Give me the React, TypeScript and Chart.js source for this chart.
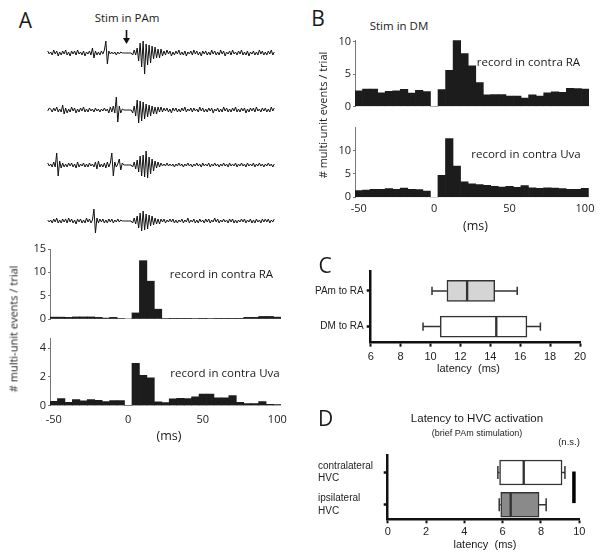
import React, { useEffect, useRef } from 'react';
import { Chart, registerables } from 'chart.js';
Chart.register(...registerables);

// ---------- DATA ----------
const BIN_CENTERS = [-50, -45, -40, -35, -30, -25, -20, -15, -10, -5, 0, 5, 10, 15, 20, 25, 30, 35, 40, 45, 50, 55, 60, 65, 70, 75, 80, 85, 90, 95, 100];
const HIST_X_TICKS = [-50, 0, 50, 100];

const A_RA = [0.4, 0.4, 0.35, 0.45, 0.45, 0.45, 0.35, 0.2, 0.35, 0.1, 0, 1.3, 12.5, 8.1, 2.1, 0.1, 0.05, 0.05, 0.05, 0.1, 0.05, 0.1, 0.05, 0.05, 0.05, 0.05, 0.35, 0.35, 0.55, 0.55, 0.4];
const A_UVA = [0.31, 0.5, 0.24, 0.43, 0.33, 0.43, 0.38, 0.29, 0.36, 0.36, 0, 2.95, 2.1, 1.93, 0.26, 0.21, 0.48, 0.52, 0.5, 0.62, 0.81, 0.81, 0.55, 0.55, 0.71, 0.24, 0.14, 0.14, 0.29, 0.1, 0.07];
const B_RA = [2.4, 2.7, 2.7, 2.1, 2.35, 2.4, 2.65, 2.05, 2.5, 2.3, 0, 2.6, 5.6, 10.2, 8.2, 6.3, 3.7, 1.8, 1.85, 1.85, 1.6, 1.6, 1.3, 1.8, 1.6, 2.1, 2.25, 2.2, 2.8, 2.75, 2.7];
const B_UVA = [1.45, 1.55, 1.7, 1.7, 1.85, 1.7, 2.0, 1.7, 1.65, 1.35, 0, 4.7, 12.6, 6.7, 3.3, 2.9, 2.7, 2.55, 2.35, 2.2, 2.35, 2.15, 2.5, 2.05, 1.9, 2.05, 2.0, 1.85, 1.7, 1.7, 1.9];

const A_RA_TICKS = [0, 5, 10, 15];
const A_UVA_TICKS = [0, 2, 4];
const B_RA_TICKS = [0, 5, 10];
const B_UVA_TICKS = [0, 5, 10];

// raw traces (arbitrary units), sampled every 1 ms starting at -54 ms
const TRACE_START_MS = -54;
const TRACE_STEP_MS = 1;
const TRACE_1 = [2, -1, 1, -2, 3, -1, 2, -3, 1, -2, 2, -1, 3, -2, 1, -3, 2, -1, 2, -2, 3, -1, 1, -2, 2, -3, 1, -1, 2, -2, 5, -5, 2, -2, 1, -2, 2, -1, 3, 12, -11, 2, -1, 1, -1, 1, -2, 1, -1, 1, 0, 0, 0, 0, 0, 0, 0, -2, 3, -2, 5, -8, 10, -14, 12, -21, 9, -12, 8, -10, 7, -6, 6, -5, 4, -5, 4, -3, 2, -2, 3, -1, 2, -3, 1, -2, 2, -1, 3, -2, 1, -2, 2, -3, 1, -1, 2, -2, 3, -1, 2, -2, 1, -3, 2, -1, 2, -2, 1, -2, 3, -1, 2, -2, 1, -2, 3, -1, 2, -3, 1, -1, 2, -2, 3, -1, 1, -2, 2, -1, 3, -2, 1, -2, 2, -3, 1, -1, 2, -2, 1, -2, 3, -1, 2, -2, 1, -2, 2, -1, 3, -2, 1];
const TRACE_2 = [-1, 2, 1, -2, 2, -1, 3, -2, 1, -2, 5, -4, 2, -3, 1, -2, 3, -1, 2, -3, 1, -2, 2, -1, 3, -2, 1, -2, 2, -1, 1, -2, 2, -1, 1, -2, 1, -1, 2, -1, 1, -3, 3, -2, 4, -3, 13, -12, 4, -3, 1, 0, 0, 0, 0, 0, 0, -3, 4, -6, 10, -13, 9, -11, 8, -9, 6, -7, 5, -6, 4, -4, 3, -4, 3, -2, 3, -2, 2, -1, 2, -2, 1, -3, 2, -1, 2, -2, 1, -2, 2, -1, 3, -2, 1, -1, 2, -2, 2, -1, 1, -2, 3, -1, 2, -2, 1, -2, 2, -1, 2, -3, 1, -1, 2, -2, 1, -2, 3, -1, 2, -2, 1, -2, 2, -1, 3, -2, 1, -2, 2, -1, 2, -3, 1, -2, 2, -1, 2, -2, 3, -1, 1, -2, 2, -1, 2, -2, 1, -2, 3, -1, 2];
const TRACE_3 = [2, -1, 1, -2, 3, -2, 12, -11, 4, -3, 2, -2, 1, -2, 2, -1, 2, -2, 1, -3, 3, -2, 1, -1, 2, -2, 1, -2, 2, -1, 1, -2, 3, -4, 4, -2, 1, -2, 2, -3, 3, -2, 2, 12, -11, 3, -2, 1, 6, -5, 2, 0, 0, 0, 0, 0, 0, -2, 3, -4, 5, -7, 9, -11, 10, -12, 14, -13, 8, -9, 6, -6, 4, -3, 3, -2, 2, -1, 1, -1, 2, -1, 1, -1, 1, -2, 1, -1, 2, -1, 1, -2, 1, -1, 2, -1, 1, -2, 1, -1, 2, -1, 1, -2, 2, -1, 1, -1, 2, -2, 1, -1, 2, -1, 1, -2, 1, -1, 2, -1, 1, -2, 2, -1, 1, -1, 2, -2, 1, -1, 2, -1, 1, -2, 2, -1, 1, -1, 2, -2, 1, -1, 2, -1, 1, -2, 1, -1, 2, -1, 1, -2, 1];
const TRACE_4 = [1, -1, 1, -2, 2, -1, 3, -2, 1, -2, 2, -1, 2, -2, 3, -1, 2, -2, 1, -3, 2, -1, 2, -2, 1, -2, 3, -1, 2, -2, 1, 12, -12, 3, -2, 2, -1, 2, -2, 1, -2, 2, -1, 2, -2, 1, -1, 2, -1, 1, 0, 0, 0, 0, 0, 0, 0, -2, 3, -3, 5, -7, 8, -10, 10, -9, 7, -8, 6, -5, 5, -4, 3, -3, 2, -3, 2, -1, 2, -2, 1, -1, 2, -1, 2, -2, 1, -2, 1, -1, 2, -2, 1, -1, 3, -2, 1, -1, 2, -2, 1, -2, 2, -1, 1, -2, 2, -1, 2, -2, 1, -1, 3, -1, 2, -2, 1, -1, 2, -1, 1, -2, 2, -1, 2, -2, 1, -2, 1, -1, 2, -1, 2, -2, 1, -1, 2, -2, 1, -2, 2, -1, 1, -2, 2, -1, 2, -1, 2, -2, 1, -1, 2];

// panel C box plots (latency, ms)
const C_ROW_IDS = [1, 2];
const C_LABELS = ['PAm to RA', 'DM to RA'];
const C_LOW = [10.1, 9.5];
const C_Q1 = [11.1, 10.65];
const C_MED = [12.45, 14.4];
const C_Q3 = [14.3, 16.45];
const C_HIGH = [15.8, 17.35];
const C_FILL = ['#d5d5d5', '#ffffff'];
const C_X_TICKS = [6, 8, 10, 12, 14, 16, 18, 20];

// panel D box plots (latency, ms)
const D_ROW_IDS = [1, 2];
const D_LABELS = [['contralateral', 'HVC'], ['ipsilateral', 'HVC']];
const D_LOW = [5.75, 5.82];
const D_Q1 = [5.84, 5.9];
const D_MED = [7.1, 6.42];
const D_Q3 = [9.1, 7.9];
const D_HIGH = [9.25, 8.27];
const D_FILL = ['#ffffff', '#8a8a8a'];
const D_X_TICKS = [0, 2, 4, 6, 8, 10];
const D_NS_X = 9.72;
const D_NS_ROWS = [0.97, 1.95];

// ---------- STYLE ----------
const OPEN = "'Open Sans', sans-serif";
const ARIAL = "'Liberation Sans', Arial, sans-serif";

const setTicks = (vals: number[]) => (s: any) => {
  s.ticks = vals.map((v) => ({ value: v }));
};

function histConfig(values: number[], o: any) {
  return {
    type: 'bar',
    data: {
      datasets: [
        {
          data: BIN_CENTERS.map((x, i) => ({ x, y: values[i] })),
          backgroundColor: '#1c1c1c',
          borderWidth: 0,
          barPercentage: 1,
          categoryPercentage: 1,
        },
      ],
    },
    options: {
      animation: false,
      responsive: false,
      maintainAspectRatio: false,
      layout: { padding: o.padding },
      plugins: { legend: { display: false }, tooltip: { enabled: false } },
      scales: {
        x: {
          type: 'linear',
          min: -52.5,
          max: 102.5,
          offset: false,
          display: o.showX,
          grid: { display: false, drawTicks: false, offset: false },
          border: { display: false },
          ticks: { font: { family: OPEN, size: 11 }, color: '#222', padding: o.xPad ?? 8, maxRotation: 0 },
          afterBuildTicks: setTicks(HIST_X_TICKS),
          afterFit: (s: any) => {
            s.height = o.xHeight ?? 0;
          },
        },
        y: {
          type: 'linear',
          min: 0,
          max: o.yMax,
          grid: { display: true, drawOnChartArea: false, drawTicks: true, tickLength: 2, color: '#777', lineWidth: 1 },
          border: { display: true, color: '#777', width: 1 },
          ticks: { font: { family: OPEN, size: 11 }, color: '#222', padding: 2 },
          afterBuildTicks: setTicks(o.yTicks),
          afterFit: (s: any) => {
            s.width = o.yWidth;
          },
        },
      },
    },
  };
}

function traceConfig(values: number[]) {
  return {
    type: 'line',
    data: {
      datasets: [
        {
          data: values.map((v, i) => ({ x: TRACE_START_MS + i * TRACE_STEP_MS, y: v })),
          borderColor: '#111',
          borderWidth: 1,
          pointRadius: 0,
          tension: 0,
        },
      ],
    },
    options: {
      animation: false,
      responsive: false,
      maintainAspectRatio: false,
      layout: { padding: 0 },
      plugins: { legend: { display: false }, tooltip: { enabled: false } },
      scales: {
        x: { type: 'linear', min: -54.5, max: 102.5, display: false },
        y: { type: 'linear', min: -25, max: 25, display: false },
      },
    },
  };
}

const whiskerPlugin = {
  id: 'whiskers',
  afterDatasetsDraw(chart: any, _args: any, opts: any) {
    const { ctx } = chart;
    const xs = chart.scales.x;
    const ys = chart.scales.y;
    ctx.save();
    ctx.strokeStyle = '#333';
    ctx.lineWidth = 1.5;
    opts.rows.forEach((r: number, i: number) => {
      const yp = ys.getPixelForValue(r);
      const lo = xs.getPixelForValue(opts.low[i]);
      const q1 = xs.getPixelForValue(opts.q1[i]);
      const q3 = xs.getPixelForValue(opts.q3[i]);
      const hi = xs.getPixelForValue(opts.high[i]);
      ctx.beginPath();
      ctx.moveTo(lo, yp);
      ctx.lineTo(q1, yp);
      ctx.moveTo(q3, yp);
      ctx.lineTo(hi, yp);
      ctx.moveTo(lo, yp - opts.cap);
      ctx.lineTo(lo, yp + opts.cap);
      ctx.moveTo(hi, yp - opts.cap);
      ctx.lineTo(hi, yp + opts.cap);
      ctx.stroke();
    });
    if (opts.ns) {
      ctx.strokeStyle = '#000';
      ctx.lineWidth = 3.5;
      const x = xs.getPixelForValue(opts.ns.x);
      ctx.beginPath();
      ctx.moveTo(x, ys.getPixelForValue(opts.ns.rows[0]));
      ctx.lineTo(x, ys.getPixelForValue(opts.ns.rows[1]));
      ctx.stroke();
    }
    ctx.restore();
  },
};

function boxConfig(o: any) {
  const mk = (a: number[], b: number[]) => o.rows.map((y: number, i: number) => ({ y, x: [a[i], b[i]] }));
  const common = {
    backgroundColor: o.fill,
    borderColor: '#333',
    borderWidth: 1.5,
    borderSkipped: false,
    barThickness: o.thickness,
    grouped: false,
  };
  return {
    type: 'bar',
    data: {
      datasets: [
        { data: mk(o.q1, o.med), ...common },
        { data: mk(o.med, o.q3), ...common },
      ],
    },
    plugins: [whiskerPlugin],
    options: {
      indexAxis: 'y',
      animation: false,
      responsive: false,
      maintainAspectRatio: false,
      layout: { padding: o.padding },
      plugins: {
        legend: { display: false },
        tooltip: { enabled: false },
        whiskers: { rows: o.rows, low: o.low, q1: o.q1, q3: o.q3, high: o.high, cap: o.cap, ns: o.ns },
      },
      scales: {
        x: {
          type: 'linear',
          min: o.xMin,
          max: o.xMax,
          offset: false,
          grid: { display: true, drawOnChartArea: false, drawTicks: true, tickLength: 4, tickWidth: 2, tickColor: '#111', offset: false },
          border: { display: true, color: '#111', width: 2.5 },
          ticks: { font: { family: ARIAL, size: 11 }, color: '#222', padding: o.xPad, maxRotation: 0 },
          afterBuildTicks: setTicks(o.xTicks),
          afterFit: (s: any) => {
            s.height = o.xHeight;
          },
        },
        y: {
          type: 'linear',
          min: o.yMin,
          max: o.yMax,
          reverse: true,
          offset: false,
          grid: { display: true, drawOnChartArea: false, drawTicks: true, tickLength: 4, tickWidth: 2.5, tickColor: '#111', offset: false },
          border: { display: true, color: '#111', width: 2.5 },
          ticks: {
            font: { family: ARIAL, size: 10, lineHeight: 1.25 },
            color: '#222',
            padding: 3,
            crossAlign: o.crossAlign,
            autoSkip: false,
            callback: (v: number) => o.labels[Math.round(v) - 1],
          },
          afterBuildTicks: setTicks(o.rows),
          afterFit: (s: any) => {
            s.width = o.yWidth;
          },
        },
      },
    },
  };
}

// ---------- COMPONENTS ----------
function ChartCanvas({ left, top, width, height, config }: any) {
  const ref = useRef<HTMLCanvasElement>(null);
  useEffect(() => {
    const chart = new Chart(ref.current as HTMLCanvasElement, config);
    return () => chart.destroy();
  }, []);
  return (
    <canvas
      ref={ref}
      width={width}
      height={height}
      style={{ position: 'absolute', left, top, width, height, display: 'block' }}
    />
  );
}

function Txt({ x, y, size, family = OPEN, rotate = false, color = '#1a1a1a', children }: any) {
  return (
    <div
      style={{
        position: 'absolute',
        left: x,
        top: y,
        transform: `translate(-50%, -50%)${rotate ? ' rotate(-90deg)' : ''}`,
        fontSize: size,
        fontFamily: family,
        lineHeight: 1,
        whiteSpace: 'pre',
        color,
      }}
    >
      {children}
    </div>
  );
}

export default function App() {
  return (
    <div style={{ position: 'absolute', left: 0, top: 0, width: 600, height: 556, background: '#fff', overflow: 'hidden' }}>
      {/* Panel A */}
      <Txt x={25.5} y={20} size={21}>A</Txt>
      <Txt x={127} y={17.5} size={11.5}>Stim in PAm</Txt>
      <svg style={{ position: 'absolute', left: 121, top: 28 }} width={11} height={18}>
        <line x1={5.5} y1={2} x2={5.5} y2={11} stroke="#111" strokeWidth={1.6} />
        <polygon points="2,10 9,10 5.5,16" fill="#111" />
      </svg>
      <ChartCanvas left={47} top={28.3} width={234} height={50} config={traceConfig(TRACE_1)} />
      <ChartCanvas left={47} top={84.7} width={234} height={50} config={traceConfig(TRACE_2)} />
      <ChartCanvas left={47} top={140.3} width={234} height={50} config={traceConfig(TRACE_3)} />
      <ChartCanvas left={47} top={196.3} width={234} height={50} config={traceConfig(TRACE_4)} />

      <ChartCanvas
        left={10}
        top={238}
        width={290}
        height={90}
        config={histConfig(A_RA, { padding: { left: 0, top: 11, right: 19, bottom: 9 }, showX: false, yMax: 15, yTicks: A_RA_TICKS, yWidth: 40 })}
      />
      <ChartCanvas
        left={10}
        top={328}
        width={290}
        height={100}
        config={histConfig(A_UVA, { padding: { left: 0, top: 10, right: 19, bottom: 0 }, showX: true, xHeight: 22.3, xPad: 8, yMax: 4.7, yTicks: A_UVA_TICKS, yWidth: 40 })}
      />
      <Txt x={221.5} y={273.5} size={11.5}>record in contra RA</Txt>
      <Txt x={225} y={373} size={11.5}>record in contra Uva</Txt>
      <Txt x={169} y={435.5} size={12.5}>(ms)</Txt>
      <Txt x={13} y={329} size={11} rotate>
        # multi-unit events / trial
      </Txt>

      {/* Panel B */}
      <Txt x={318} y={18} size={21}>B</Txt>
      <Txt x={399} y={25.5} size={11.5}>Stim in DM</Txt>
      <ChartCanvas
        left={325}
        top={30}
        width={275}
        height={85}
        config={histConfig(B_RA, { padding: { left: 0, top: 10, right: 11, bottom: 5 }, showX: false, yMax: 10.3, yTicks: B_RA_TICKS, yWidth: 30 })}
      />
      <ChartCanvas
        left={325}
        top={117}
        width={275}
        height={105}
        config={histConfig(B_UVA, { padding: { left: 0, top: 10.3, right: 11, bottom: 0 }, showX: true, xHeight: 24.7, xPad: 5.4, yMax: 15, yTicks: B_UVA_TICKS, yWidth: 30 })}
      />
      <Txt x={528.5} y={62} size={11.5}>record in contra RA</Txt>
      <Txt x={526} y={153.5} size={11.5}>record in contra Uva</Txt>
      <Txt x={475.5} y={225.5} size={12.5}>(ms)</Txt>
      <Txt x={322} y={115} size={11} rotate>
        # multi-unit events / trial
      </Txt>

      {/* Panel C */}
      <Txt x={325} y={264.5} size={21}>C</Txt>
      <ChartCanvas
        left={300}
        top={262}
        width={300}
        height={112}
        config={boxConfig({
          rows: C_ROW_IDS,
          labels: C_LABELS,
          low: C_LOW,
          q1: C_Q1,
          med: C_MED,
          q3: C_Q3,
          high: C_HIGH,
          fill: C_FILL,
          thickness: 21,
          cap: 4.2,
          xMin: 6,
          xMax: 20,
          xTicks: C_X_TICKS,
          yMin: 0.45,
          yMax: 2.45,
          padding: { left: 0, top: 8.9, right: 20, bottom: 0 },
          yWidth: 70.7,
          xHeight: 31.3,
          xPad: 3.4,
          crossAlign: 'near',
        })}
      />
      <Txt x={468.5} y={368} size={11} family={ARIAL}>latency  (ms)</Txt>

      {/* Panel D */}
      <Txt x={325.5} y={418} size={21}>D</Txt>
      <Txt x={477} y={419} size={11.5} family={ARIAL}>Latency to HVC activation</Txt>
      <Txt x={477} y={432.7} size={9} family={ARIAL}>(brief PAm stimulation)</Txt>
      <Txt x={569} y={441.7} size={9.5} family={ARIAL}>(n.s.)</Txt>
      <ChartCanvas
        left={310}
        top={440}
        width={290}
        height={116}
        config={boxConfig({
          rows: D_ROW_IDS,
          labels: D_LABELS,
          low: D_LOW,
          q1: D_Q1,
          med: D_MED,
          q3: D_Q3,
          high: D_HIGH,
          fill: D_FILL,
          thickness: 25,
          cap: 6.5,
          ns: { x: D_NS_X, rows: D_NS_ROWS },
          xMin: 0,
          xMax: 10,
          xTicks: D_X_TICKS,
          yMin: 0.474,
          yMax: 2.452,
          padding: { left: 8, top: 6.7, right: 20.7, bottom: 0 },
          yWidth: 69.7,
          xHeight: 36.7,
          xPad: 2,
          crossAlign: 'far',
        })}
      />
      <Txt x={485} y={544} size={11} family={ARIAL}>latency  (ms)</Txt>
    </div>
  );
}
